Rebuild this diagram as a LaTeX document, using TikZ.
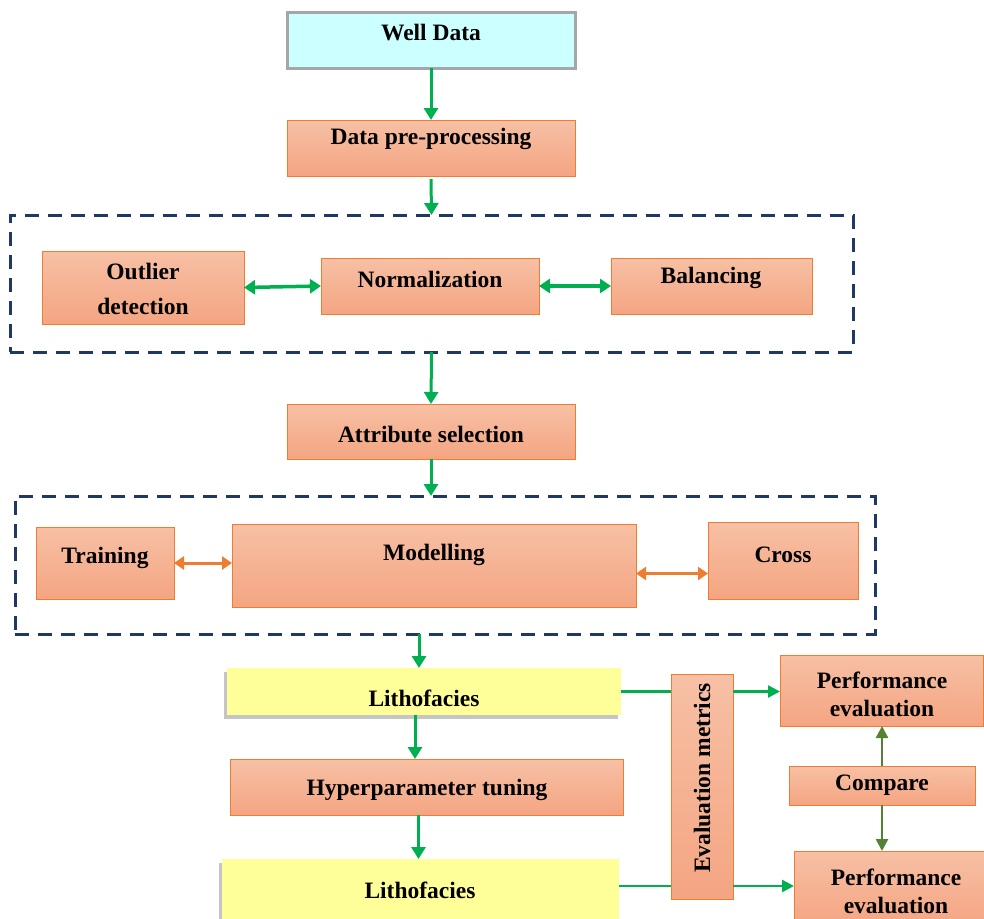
\documentclass[tikz,border=0pt]{standalone}
\usepackage{fontspec}
\setmainfont{Liberation Serif}
\usetikzlibrary{arrows.meta,shadows,calc}
\definecolor{cyanfill}{HTML}{CCFFFF}
\definecolor{grayedge}{HTML}{A6A6A6}
\definecolor{otop}{HTML}{F7C0A5}
\definecolor{obot}{HTML}{F4A582}
\definecolor{oedge}{HTML}{ED7D31}
\definecolor{ygreen}{HTML}{00B050}
\definecolor{dgreen}{HTML}{548235}
\definecolor{navy}{HTML}{1F3864}
\definecolor{yfill}{HTML}{FFFF99}
\tikzset{
  boxbase/.style={rectangle, inner sep=0pt, outer sep=0pt},
  obox/.style={boxbase, draw=oedge, line width=0.8pt, top color=otop, bottom color=obot},
  cbox/.style={boxbase, draw=grayedge, line width=3pt, fill=cyanfill},
  ybox/.style={boxbase, fill=yfill, drop shadow={shadow xshift=-3pt, shadow yshift=-4pt, opacity=0.45, fill=gray}},
  dbox/.style={boxbase, draw=navy, line width=3pt, dash pattern=on 14pt off 9pt},
  lbl/.style={inner sep=0pt, font=\fontsize{23.5}{28}\selectfont\bfseries, align=center},
  garrow/.style={draw=ygreen, line width=3pt, -{Triangle[length=12pt,width=14pt]}},
  gdouble/.style={draw=ygreen, line width=3.5pt, {Triangle[length=11pt,width=14pt]}-{Triangle[length=11pt,width=14pt]}},
  odouble/.style={draw=oedge, line width=3pt, {Triangle[length=10pt,width=13pt]}-{Triangle[length=10pt,width=13pt]}},
  gline/.style={draw=ygreen, line width=2.5pt},
  garrowthin/.style={draw=ygreen, line width=2.5pt, -{Triangle[length=12pt,width=12pt]}},
  dgarrow/.style={draw=dgreen, line width=2.5pt, -{Triangle[length=12pt,width=12pt]}}
}
\begin{document}
\begin{tikzpicture}[x=1pt,y=-1pt]
\path[use as bounding box, clip] (0,0) rectangle (984,918);
\fill[white] (0,0) rectangle (984,918);

% top
\node[cbox, minimum width=288pt, minimum height=56pt] (wd) at (431,40) {};
\node[lbl] (wdt) at (431,33) {Well Data};
\node[obox, minimum width=288pt, minimum height=56pt] (dpp) at (431,148) {};
\node[lbl] (dppt) at (431,139) {Data pre-processing};

% dashed box 1
\node[dbox, minimum width=843pt, minimum height=137pt] (g1) at (431.5,283.5) {};
\node[obox, minimum width=202pt, minimum height=73pt] (out) at (143,287.5) {};
\node[lbl, font=\fontsize{23.5}{35}\selectfont\bfseries] (outt) at (143,289) {Outlier\\detection};
\node[obox, minimum width=218pt, minimum height=56pt] (norm) at (430,286) {};
\node[lbl] (normt) at (430,279) {Normalization};
\node[obox, minimum width=201pt, minimum height=56pt] (bal) at (711.5,286) {};
\node[lbl] (balt) at (711,278) {Balancing};

\node[obox, minimum width=288pt, minimum height=55pt] (attr) at (431,431.5) {};
\node[lbl] (attrt) at (431,434) {Attribute selection};

% dashed box 2
\node[dbox, minimum width=860pt, minimum height=138pt] (g2) at (445,565) {};
\node[obox, minimum width=138pt, minimum height=72pt] (train) at (105,563) {};
\node[lbl] (traint) at (105,558) {Training};
\node[obox, minimum width=404pt, minimum height=83pt] (model) at (434,565.5) {};
\node[lbl] (modelt) at (434,555) {Modelling};
\node[obox, minimum width=150pt, minimum height=77pt] (cross) at (783,560.5) {};
\node[lbl] (crosst) at (783,555) {Cross};
\coordinate (mce) at ($(model.east)+(0,8)$);

% lower part
\node[ybox, minimum width=394pt, minimum height=47pt] (lith1) at (424,691.5) {};
\node[lbl] (lith1t) at (424,698) {Lithofacies};
\node[obox, minimum width=393pt, minimum height=56pt] (hyp) at (426.5,787) {};
\node[lbl] (hypt) at (427,790) {Hyperparameter tuning};
\node[ybox, minimum width=397pt, minimum height=62pt] (lith2) at (420.5,890) {};
\node[lbl] (lith2t) at (420,890) {Lithofacies};

\node[obox, minimum width=62pt, minimum height=225pt] (eval) at (702,786.5) {};
\node[lbl, rotate=90] (evalt) at (702,778) {Evaluation metrics};

\node[obox, minimum width=203pt, minimum height=71pt] (perf1) at (881.5,690.5) {};
\node[lbl] (perf1t) at (882,694) {Performance\\evaluation};
\node[obox, minimum width=186pt, minimum height=39pt] (cmp) at (882,785.5) {};
\node[lbl] (cmpt) at (882,785) {Compare};
\node[obox, minimum width=200pt, minimum height=75pt] (perf2) at (894,888.5) {};
\node[lbl] (perf2t) at (896,891.5) {Performance\\evaluation};
\coordinate (l2e) at ($(lith2.east)+(0,-4)$);

% connectors
\draw[garrow] (wd.south) -- (dpp.north);
\draw[garrow] ($(dpp.south)+(0,3)$) -- (g1.north);
\draw[gdouble] (out.east) -- (norm.west);
\draw[gdouble] (norm.east) -- (bal.west);
\draw[garrow] (g1.south) -- (attr.north);
\draw[garrow] (attr.south) -- (attr.south |- g2.north);
\draw[odouble] (train.east) -- (train.east -| model.west);
\draw[odouble] (mce) -- (mce -| cross.west);
\draw[garrow] ($(lith1.north |- g2.south)+(-5,0)$) -- ($(lith1.north)+(-5,0)$);
\draw[garrow] ($(lith1.south)+(-9,0)$) -- ($(lith1.south |- hyp.north)+(-9,0)$);
\draw[garrow] ($(hyp.south -| lith2.north)+(-2,0)$) -- ($(lith2.north)+(-2,0)$);
\draw[gline] (lith1.east) -- (lith1.east -| eval.west);
\draw[garrowthin] (eval.east |- lith1.east) -- (perf1.west |- lith1.east);
\draw[gline] (l2e) -- (l2e -| eval.west);
\draw[garrowthin] (l2e -| eval.east) -- (l2e -| perf2.west);
\draw[dgarrow] (cmp.north) -- (cmp.north |- perf1.south);
\draw[dgarrow] (cmp.south) -- (cmp.south |- perf2.north);
\end{tikzpicture}
\end{document}
